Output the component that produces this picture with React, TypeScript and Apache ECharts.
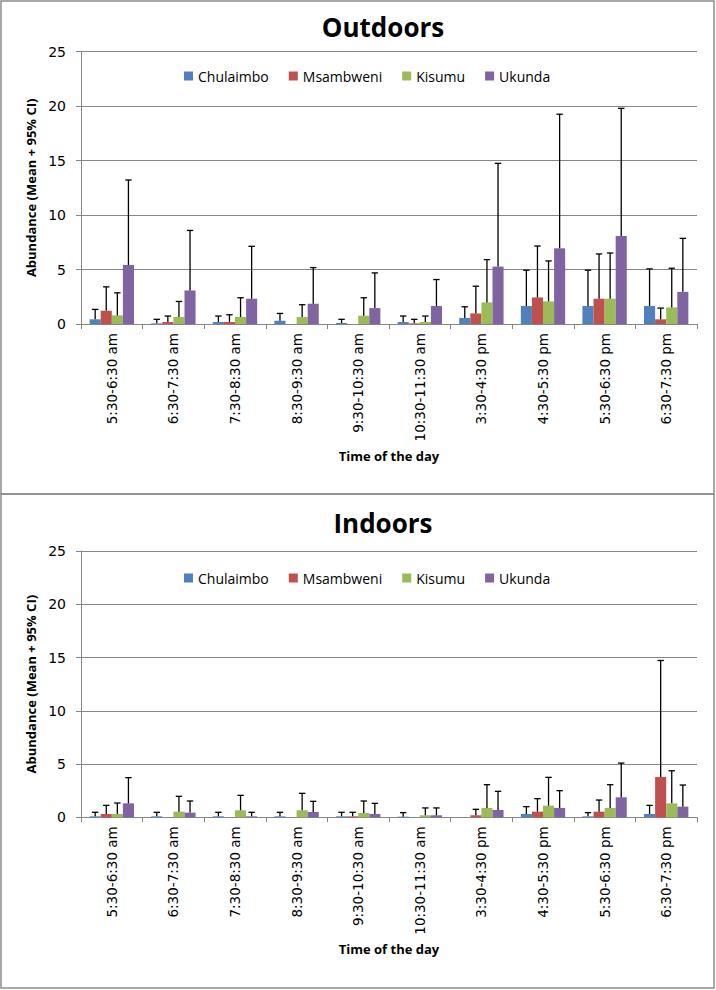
import React, { useEffect, useRef } from "react";
import * as echarts from "echarts";

const categories = [
  "5:30-6:30 am",
  "6:30-7:30 am",
  "7:30-8:30 am",
  "8:30-9:30 am",
  "9:30-10:30 am",
  "10:30-11:30 am",
  "3:30-4:30 pm",
  "4:30-5:30 pm",
  "5:30-6:30 pm",
  "6:30-7:30 pm",
];
const seriesNames = ["Chulaimbo", "Msambweni", "Kisumu", "Ukunda"];
const colors = ["#4F81BD", "#C0504D", "#9BBB59", "#8064A2"];
const yTicks = [0, 5, 10, 15, 20, 25];

// Outdoors: means and upper 95% CI
const outChulaimbo = [0.43, 0.06, 0.18, 0.3, 0.09, 0.18, 0.55, 1.65, 1.65, 1.65];
const outChulaimboUp = [1.34, 0.43, 0.73, 0.97, 0.43, 0.73, 1.58, 4.94, 4.94, 5.06];
const outMsambweni = [1.22, 0.18, 0.18, 0, 0, 0.06, 0.97, 2.44, 2.32, 0.43];
const outMsambweniUp = [3.41, 0.73, 0.85, null, null, 0.43, 3.47, 7.16, 6.43, 1.46];
const outKisumu = [0.79, 0.64, 0.64, 0.64, 0.76, 0.18, 1.98, 2.07, 2.32, 1.52];
const outKisumuUp = [2.86, 2.07, 2.41, 1.77, 2.41, 0.73, 5.91, 5.79, 6.52, 5.12];
const outUkunda = [5.42, 3.08, 2.32, 1.86, 1.46, 1.65, 5.27, 6.95, 8.07, 2.95];
const outUkundaUp = [13.22, 8.59, 7.13, 5.18, 4.69, 4.08, 14.75, 19.26, 19.8, 7.86];

// Indoors: means and upper 95% CI
const inChulaimbo = [0.09, 0.09, 0.09, 0.09, 0.09, 0.06, 0, 0.31, 0.09, 0.31];
const inChulaimboUp = [0.47, 0.47, 0.47, 0.47, 0.47, 0.44, null, 1.0, 0.44, 1.12];
const inMsambweni = [0.31, 0, 0, 0, 0.09, 0, 0.19, 0.53, 0.53, 3.78];
const inMsambweniUp = [1.12, null, null, null, 0.47, null, 0.75, 1.75, 1.62, 14.72];
const inKisumu = [0.31, 0.53, 0.66, 0.66, 0.41, 0.19, 0.88, 1.09, 0.88, 1.31];
const inKisumuUp = [1.34, 1.97, 2.06, 2.25, 1.53, 0.88, 3.06, 3.75, 3.06, 4.37];
const inUkunda = [1.31, 0.44, 0.09, 0.5, 0.31, 0.19, 0.69, 0.88, 1.88, 1.0];
const inUkundaUp = [3.72, 1.53, 0.47, 1.5, 1.31, 0.88, 2.44, 2.5, 5.09, 3.03];

const outMeans = [outChulaimbo, outMsambweni, outKisumu, outUkunda];
const outUps = [outChulaimboUp, outMsambweniUp, outKisumuUp, outUkundaUp];
const inMeans = [inChulaimbo, inMsambweni, inKisumu, inUkunda];
const inUps = [inChulaimboUp, inMsambweniUp, inKisumuUp, inUkundaUp];

const GAP = 0.28;
const AXIS_GREY = "#868686";

function errData(means: number[][], ups: (number | null)[][]) {
  const d: number[][] = [];
  means.forEach((m, s) => {
    m.forEach((v, c) => {
      const u = ups[s][c];
      if (u !== null && u !== undefined) d.push([c, s, u, v]);
    });
  });
  return d;
}

function renderErr(params: any, api: any) {
  const c = api.value(0);
  const s = api.value(1);
  const hi = api.value(2);
  const mean = api.value(3);
  const base = api.coord([c, mean]);
  const top = api.coord([c, hi]);
  const band = api.size([1, 0])[0];
  const bw = (band * (1 - GAP)) / 4;
  const x = base[0] + (s - 1.5) * bw;
  const st = { stroke: "#000", lineWidth: 1.3 };
  return {
    type: "group",
    children: [
      { type: "line", shape: { x1: x, y1: base[1], x2: x, y2: top[1] }, style: st },
      { type: "line", shape: { x1: x - 3.2, y1: top[1], x2: x + 3.2, y2: top[1] }, style: st },
    ],
  };
}

export default function App() {
  const ref = useRef<HTMLDivElement>(null);
  useEffect(() => {
    if (!ref.current) return;
    const chart = echarts.init(ref.current, null, { renderer: "svg" });
    const grids = [
      { left: 81, right: 19, top: 51.7, height: 272.3 },
      { left: 81, right: 19, top: 551, height: 266.3 },
    ];
    const xAxes = grids.map((_, i) => ({
      type: "category",
      gridIndex: i,
      data: categories,
      axisLine: { lineStyle: { color: AXIS_GREY, width: 1 } },
      axisTick: { show: true, length: 5, inside: false, lineStyle: { color: AXIS_GREY } },
      axisLabel: {
        rotate: 90,
        margin: 9,
        color: "#000",
        fontFamily: "DejaVu Sans",
        fontSize: 13.5,
      },
      name: "Time of the day",
      nameLocation: "middle",
      nameGap: 125,
      nameTextStyle: { fontFamily: "Open Sans", fontWeight: "bold", fontSize: 13, color: "#000" },
    }));
    const yAxes = grids.map((_, i) => ({
      type: "value",
      gridIndex: i,
      min: 0,
      max: 25,
      interval: 5,
      axisLine: { show: true, lineStyle: { color: AXIS_GREY, width: 1 } },
      axisTick: { show: true, length: 5, lineStyle: { color: AXIS_GREY } },
      splitLine: { show: true, lineStyle: { color: AXIS_GREY, width: 1 } },
      axisLabel: {
        margin: 15,
        color: "#000",
        fontFamily: "DejaVu Sans",
        fontSize: 14,
        formatter: (v: number) => (yTicks.includes(v) ? String(v) : ""),
      },
      name: "Abundance (Mean + 95% CI)",
      nameLocation: "middle",
      nameRotate: 90,
      nameGap: 37,
      nameTextStyle: { fontFamily: "Open Sans", fontWeight: "bold", fontSize: 13, color: "#000" },
    }));
    const series: any[] = [];
    [outMeans, inMeans].forEach((means, g) => {
      means.forEach((m, s) => {
        series.push({
          type: "bar",
          name: seriesNames[s],
          xAxisIndex: g,
          yAxisIndex: g,
          data: m,
          barGap: "0%",
          barCategoryGap: GAP * 100 + "%",
          itemStyle: { color: colors[s] },
          z: 2,
        });
      });
      series.push({
        type: "custom",
        name: "err" + g,
        xAxisIndex: g,
        yAxisIndex: g,
        data: errData(means, g === 0 ? outUps : inUps),
        encode: { x: 0, y: 2 },
        renderItem: renderErr,
        z: 5,
      });
    });
    const legendBase = {
      data: seriesNames,
      icon: "rect",
      itemWidth: 9,
      itemHeight: 9,
      itemGap: 20,
      padding: 0,
      left: 184,
      selectedMode: false,
      textStyle: { fontFamily: "Open Sans", fontSize: 14, color: "#000", lineHeight: 16 },
    };
    chart.setOption({
      animation: false,
      backgroundColor: "#fff",
      grid: grids,
      xAxis: xAxes,
      yAxis: yAxes,
      legend: [
        { ...legendBase, top: 68 },
        { ...legendBase, top: 570 },
      ],
      series,
      graphic: [
        {
          type: "rect",
          shape: { x: 1, y: 1, width: 713, height: 493 },
          style: { fill: "none", stroke: "#8c8c8c", lineWidth: 1.5 },
          silent: true,
        },
        {
          type: "rect",
          shape: { x: 1, y: 494, width: 713, height: 494 },
          style: { fill: "none", stroke: "#8c8c8c", lineWidth: 1.5 },
          silent: true,
        },
        {
          type: "text",
          x: 383,
          y: 27,
          style: {
            text: "Outdoors",
            font: 'bold 26px "Open Sans"',
            fill: "#000",
            align: "center",
            verticalAlign: "middle",
          },
        },
        {
          type: "text",
          x: 383,
          y: 523,
          style: {
            text: "Indoors",
            font: 'bold 26px "Open Sans"',
            fill: "#000",
            align: "center",
            verticalAlign: "middle",
          },
        },
      ],
    });
    return () => chart.dispose();
  }, []);
  return (
    <div
      ref={ref}
      style={{ position: "absolute", left: 0, top: 0, width: 716, height: 990 }}
    />
  );
}
